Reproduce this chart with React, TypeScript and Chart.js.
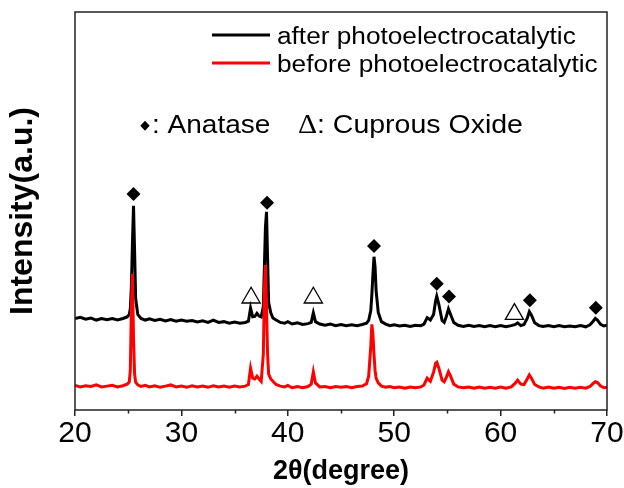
import React, { useEffect, useRef } from "react";
import { Chart, registerables } from "chart.js";

Chart.register(...registerables);

// 2θ positions (degree)
const twoTheta = [
  20.0, 20.5, 21.0, 21.5, 22.0, 22.5, 23.0, 23.5, 24.0, 24.5, 24.9, 25.1, 25.2, 25.3, 25.4, 25.5, 25.6, 25.7, 25.9,
  26.2, 26.6, 27.0, 27.5, 28.0, 28.5, 29.0, 29.5, 30.0, 30.5, 31.0, 31.5, 32.0, 32.5, 33.0, 33.5, 34.0, 34.5, 35.0,
  35.5, 36.0, 36.3, 36.5, 36.7, 36.9, 37.1, 37.3, 37.5, 37.7, 37.8, 37.9, 38.0, 38.1, 38.2, 38.4, 38.6, 38.9, 39.3,
  39.7, 40.0, 40.4, 40.9, 41.4, 41.9, 42.2, 42.4, 42.6, 43.0, 43.5, 44.0, 44.5, 45.0, 45.5, 46.0, 46.5, 47.0, 47.4,
  47.6, 47.8, 47.9, 48.0, 48.1, 48.2, 48.3, 48.5, 48.8, 49.2, 49.6, 50.0, 50.5, 51.0, 51.5, 52.0, 52.5, 52.8, 53.1,
  53.4, 53.7, 53.9, 54.0, 54.2, 54.5, 54.7, 54.9, 55.1, 55.3, 55.6, 56.0, 56.5, 57.0, 57.5, 58.0, 58.5, 59.0, 59.5,
  60.0, 60.5, 61.0, 61.4, 61.6, 61.9, 62.2, 62.5, 62.7, 62.9, 63.2, 63.6, 64.0, 64.5, 65.0, 65.5, 66.0, 66.5, 67.0,
  67.5, 68.0, 68.4, 68.7, 68.9, 69.1, 69.4, 69.7, 70.0,
];

// Intensity (a.u., offset) — after photoelectrocatalytic
const afterIntensity = [
  23.0, 23.3, 22.8, 23.1, 22.6, 23.0, 22.7, 23.0, 22.6, 23.0, 23.4, 24.0, 25.5, 31.0, 42.0, 51.3, 40.0, 28.0, 24.0,
  23.0, 22.6, 22.9, 22.5, 22.8, 22.4, 22.7, 22.3, 22.6, 22.3, 22.5, 22.1, 22.4, 22.0, 22.6, 22.0, 22.2, 21.8, 22.1,
  21.8, 22.0, 22.3, 25.6, 23.4, 23.5, 24.3, 23.6, 23.4, 26.0, 36.0, 46.0, 49.8, 38.0, 27.0, 24.4, 23.1, 22.6, 22.0,
  21.8, 22.2, 21.6, 21.9, 21.5, 21.7, 22.0, 24.4, 22.2, 21.6, 21.3, 21.6, 21.2, 21.5, 21.2, 21.4, 21.2, 21.5, 21.8,
  22.5, 25.0, 29.0, 34.0, 38.5, 36.0, 30.0, 24.5, 22.2, 21.6, 21.2, 21.4, 21.1, 21.3, 21.0, 21.3, 21.2, 21.6, 23.2,
  22.6, 24.0, 27.5, 28.6, 26.5, 22.5, 22.0, 23.5, 25.4, 24.0, 22.0, 21.3, 21.0, 21.3, 21.0, 21.2, 20.9, 21.2, 20.9,
  21.2, 20.9, 21.2, 21.5, 21.9, 21.2, 21.5, 23.0, 24.7, 23.8, 21.9, 21.2, 21.0, 21.2, 20.9, 21.2, 20.9, 21.1, 20.9,
  21.2, 20.9, 21.4, 22.3, 23.0, 22.6, 21.5, 21.1, 21.3,
];

// Intensity (a.u.) — before photoelectrocatalytic
const beforeIntensity = [
  6.2, 5.8, 6.1, 5.9, 6.3, 5.8, 6.0, 6.2, 5.8, 6.1, 6.5, 7.0, 10.0, 26.0, 34.2, 18.0, 9.0, 7.0, 6.3,
  5.9, 6.2, 5.8, 6.1, 5.7, 6.0, 6.3, 5.8, 6.0, 5.7, 6.1, 5.8, 6.0, 5.7, 6.1, 5.8, 6.0, 5.7, 6.0,
  5.8, 6.0, 6.4, 10.5, 8.0, 7.8, 8.5, 7.8, 7.2, 14.0, 30.0, 36.4, 26.0, 14.0, 9.0, 7.8, 7.2, 6.4, 6.0,
  5.8, 6.2, 5.6, 5.9, 5.6, 5.9, 6.5, 9.6, 6.8, 5.8, 5.9, 5.6, 5.9, 5.7, 5.9, 5.6, 5.9, 6.0, 6.6,
  8.5, 16.0, 21.5, 19.0, 14.0, 10.0, 8.0, 6.8, 6.0, 5.7, 5.9, 5.6, 5.8, 5.5, 5.8, 5.6, 5.8, 6.3, 8.0,
  7.2, 9.5, 11.8, 12.0, 10.5, 7.5, 7.1, 8.2, 9.6, 8.5, 6.5, 5.8, 5.6, 5.8, 5.5, 5.8, 5.5, 5.7, 5.5,
  5.8, 5.5, 5.8, 6.8, 7.5, 6.5, 6.4, 7.8, 8.8, 8.0, 6.4, 5.8, 5.5, 5.8, 5.5, 5.7, 5.4, 5.7, 5.5,
  5.7, 5.5, 5.9, 6.7, 7.1, 6.9, 6.0, 5.6, 5.7,
];

// Peak markers: anatase (◆) and cuprous oxide (Δ)
const anataseTheta = [25.5, 38.05, 48.1, 54.0, 55.15, 62.75, 68.95];
const anataseMark = [54.3, 52.1, 41.2, 31.7, 28.5, 27.6, 25.7];
const cuprousTheta = [36.55, 42.4, 61.3];
const cuprousMark = [28.2, 28.2, 24.1];

const xTicks = [20, 30, 40, 50, 60, 70];
const xMinorTicks = [25, 35, 45, 55, 65];

const seriesLabels = ["after photoelectrocatalytic", "before photoelectrocatalytic"];
const phaseNote = [": Anatase", ": Cuprous Oxide"];

const FONT = "'Liberation Sans', Arial, sans-serif";

const decorPlugin = {
  id: "decor",
  afterDraw(chart: any) {
    const { ctx, chartArea } = chart;
    const xs = chart.scales.x;
    ctx.save();
    // frame
    ctx.strokeStyle = "#222";
    ctx.lineWidth = 1.5;
    ctx.strokeRect(chartArea.left, chartArea.top, chartArea.right - chartArea.left, chartArea.bottom - chartArea.top);
    // minor ticks
    ctx.beginPath();
    xMinorTicks.forEach((v) => {
      const px = Math.round(xs.getPixelForValue(v)) + 0.5;
      ctx.moveTo(px, chartArea.bottom);
      ctx.lineTo(px, chartArea.bottom + 3.5);
    });
    ctx.stroke();

    // legend
    const lines = [
      { color: "#000", y: 35, text: seriesLabels[0], base: 44 },
      { color: "#ff0000", y: 63, text: seriesLabels[1], base: 72 },
    ];
    lines.forEach((l) => {
      ctx.strokeStyle = l.color;
      ctx.lineWidth = 3;
      ctx.beginPath();
      ctx.moveTo(212, l.y);
      ctx.lineTo(270, l.y);
      ctx.stroke();
      ctx.save();
      ctx.translate(277, l.base);
      ctx.scale(1.14, 1);
      ctx.fillStyle = "#000";
      ctx.font = `23px ${FONT}`;
      ctx.textBaseline = "alphabetic";
      ctx.fillText(l.text, 0, 0);
      ctx.restore();
    });

    // phase note
    ctx.fillStyle = "#000";
    ctx.beginPath();
    ctx.moveTo(145, 120.7);
    ctx.lineTo(149.7, 125.7);
    ctx.lineTo(145, 130.7);
    ctx.lineTo(140.3, 125.7);
    ctx.closePath();
    ctx.fill();
    ctx.save();
    ctx.translate(152, 133.3);
    ctx.scale(1.12, 1);
    ctx.font = `25px ${FONT}`;
    ctx.fillText(phaseNote[0], 0, 0);
    ctx.restore();
    ctx.save();
    ctx.translate(298, 133.3);
    ctx.scale(1.1, 1);
    ctx.font = `27px 'Liberation Serif', 'Times New Roman', serif`;
    ctx.fillText("\u0394", 0, 0);
    ctx.restore();
    ctx.save();
    ctx.translate(317, 133.3);
    ctx.scale(1.14, 1);
    ctx.font = `25px ${FONT}`;
    ctx.fillText(phaseNote[1], 0, 0);
    ctx.restore();
    ctx.restore();
  },
};

export default function App() {
  const ref = useRef<HTMLCanvasElement | null>(null);
  useEffect(() => {
    document.body.style.margin = "0";
    const canvas = ref.current;
    if (!canvas) return;
    const chart = new Chart(canvas, {
      type: "line",
      data: {
        datasets: [
          {
            label: "anatase",
            type: "scatter",
            data: anataseTheta.map((x, i) => ({ x, y: anataseMark[i] })),
            pointStyle: "rectRot",
            pointRadius: 7,
            backgroundColor: "#000",
            borderColor: "#000",
            borderWidth: 0,
            order: 0,
          } as any,
          {
            label: "cuprous",
            type: "scatter",
            data: cuprousTheta.map((x, i) => ({ x, y: cuprousMark[i] })),
            pointStyle: "triangle",
            pointRadius: 10.5,
            backgroundColor: "rgba(255,255,255,0)",
            borderColor: "#000",
            borderWidth: 1.3,
            order: 0,
          } as any,
          {
            label: seriesLabels[1],
            data: twoTheta.map((x, i) => ({ x, y: beforeIntensity[i] })),
            borderColor: "#ff0000",
            borderWidth: 3,
            pointRadius: 0,
            tension: 0,
            fill: false,
            order: 1,
          },
          {
            label: seriesLabels[0],
            data: twoTheta.map((x, i) => ({ x, y: afterIntensity[i] })),
            borderColor: "#000",
            borderWidth: 3,
            pointRadius: 0,
            tension: 0,
            fill: false,
            order: 2,
          },
        ],
      },
      options: {
        animation: false,
        responsive: false,
        maintainAspectRatio: false,
        layout: { padding: { left: 0, right: 17, top: 12, bottom: 0 } },
        plugins: { legend: { display: false }, tooltip: { enabled: false } },
        scales: {
          x: {
            type: "linear",
            min: 20,
            max: 70,
            afterBuildTicks: (scale: any) => {
              scale.ticks = xTicks.map((v) => ({ value: v }));
            },
            afterFit: (scale: any) => {
              scale.height = 78;
            },
            ticks: {
              padding: 0,
              color: "#000",
              font: { family: FONT, size: 30 },
              maxRotation: 0,
            },
            grid: {
              display: true,
              drawOnChartArea: false,
              drawTicks: true,
              tickLength: 6,
              color: "#222",
              lineWidth: 1.5,
            },
            border: { display: false },
            title: {
              display: true,
              text: "2\u03b8(degree)",
              color: "#000",
              font: { family: FONT, size: 27, weight: "bold" },
              padding: { top: 0, bottom: 0 },
            },
          },
          y: {
            type: "linear",
            min: 0,
            max: 100,
            afterFit: (scale: any) => {
              scale.width = 75;
            },
            ticks: { display: false },
            grid: { display: false, drawTicks: false },
            border: { display: false },
            title: {
              display: true,
              text: "Intensity(a.u.)",
              color: "#000",
              font: { family: FONT, size: 32, weight: "bold" },
              padding: { top: 4, bottom: 0 },
            },
          },
        },
      },
      plugins: [decorPlugin],
    });
    return () => chart.destroy();
  }, []);
  return (
    <div style={{ width: 624, height: 488 }}>
      <canvas ref={ref} width={624} height={488} style={{ display: "block" }} />
    </div>
  );
}
